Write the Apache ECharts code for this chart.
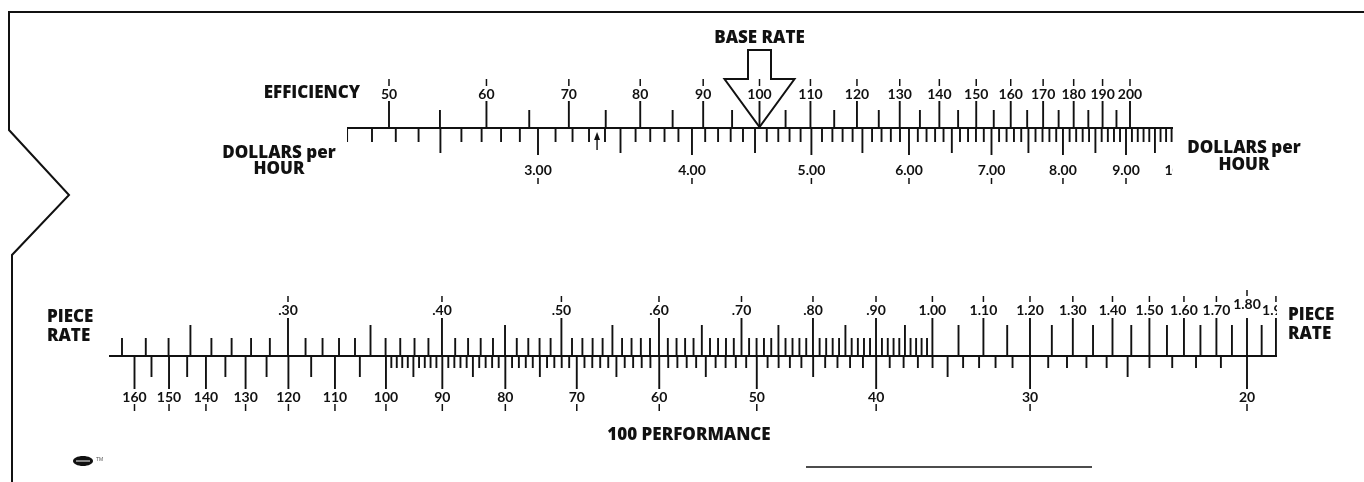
<!DOCTYPE html>
<html>
<head>
<meta charset="utf-8">
<script src="https://cdn.jsdelivr.net/npm/echarts@6/dist/echarts.min.js"></script>
<style>
  html, body { margin: 0; padding: 0; background: #fff; }
  #chart { width: 1364px; height: 482px; }
</style>
</head>
<body>
<div id="chart"></div>
<script>
// ---------------- DATA (scale graduations) ----------------
const efficiencyLabels = [50, 60, 70, 80, 90, 100, 110, 120, 130, 140, 150, 160, 170, 180, 190, 200];
const efficiencyMinor  = [55, 65, 75, 85, 95, 105, 115, 125, 135, 145, 155, 165, 175, 185, 195];

const dollarLabels = [3, 4, 5, 6, 7, 8, 9, 10];
const dollarMedium = [2.5, 3.5, 4.5, 5.5, 6.5, 7.5, 8.5, 9.5];
const dollarSmall  = [2.1, 2.2, 2.3, 2.4, 2.6, 2.7, 2.8, 2.9,
                      3.1, 3.2, 3.3, 3.4, 3.6, 3.7, 3.8, 3.9,
                      4.1, 4.2, 4.3, 4.4, 4.6, 4.7, 4.8, 4.9,
                      5.1, 5.2, 5.3, 5.4, 5.6, 5.7, 5.8, 5.9,
                      6.1, 6.2, 6.3, 6.4, 6.6, 6.7, 6.8, 6.9,
                      7.1, 7.2, 7.3, 7.4, 7.6, 7.7, 7.8, 7.9,
                      8.1, 8.2, 8.3, 8.4, 8.6, 8.7, 8.8, 8.9,
                      9.1, 9.2, 9.3, 9.4, 9.6, 9.7, 9.8, 9.9];

const pieceRateLabels = [0.30, 0.40, 0.50, 0.60, 0.70, 0.80, 0.90, 1.00, 1.10, 1.20, 1.30, 1.40, 1.50, 1.60, 1.70, 1.80, 1.90];
const pieceRateMedium = [0.25, 0.35, 0.45, 0.55, 0.65, 0.75, 0.85, 0.95, 1.05, 1.15, 1.25, 1.35, 1.45, 1.55, 1.65, 1.75, 1.85];
const pieceRateSmall  = [0.22, 0.23, 0.24, 0.26, 0.27, 0.28, 0.29,
                         0.31, 0.32, 0.33, 0.34, 0.36, 0.37, 0.38, 0.39,
                         0.41, 0.42, 0.43, 0.44, 0.46, 0.47, 0.48, 0.49,
                         0.51, 0.52, 0.53, 0.54, 0.56, 0.57, 0.58, 0.59,
                         0.61, 0.62, 0.63, 0.64, 0.66, 0.67, 0.68, 0.69,
                         0.71, 0.72, 0.73, 0.74, 0.76, 0.77, 0.78, 0.79,
                         0.81, 0.82, 0.83, 0.84, 0.86, 0.87, 0.88, 0.89,
                         0.91, 0.92, 0.93, 0.94, 0.96, 0.97, 0.98, 0.99];
const pieceRateRaised = [1.80];

const performanceLabels = [160, 150, 140, 130, 120, 110, 100, 90, 80, 70, 60, 50, 40, 30, 20];
const performanceMedium = [155, 145, 135, 125, 115, 105, 95, 85, 75, 65, 55, 45, 35, 25];
const performanceSmall  = [99, 98, 97, 96, 94, 93, 92, 91,
                           89, 88, 87, 86, 84, 83, 82, 81,
                           79, 78, 77, 76, 74, 73, 72, 71,
                           69, 68, 67, 66, 64, 63, 62, 61,
                           59, 58, 57, 56, 54, 53, 52, 51,
                           49, 48, 47, 46, 44, 43, 42, 41,
                           39, 38, 37, 36, 34, 33, 32, 31,
                           29, 28, 27, 26, 24, 23, 22, 21];

const baseRateEfficiency = [100];
const minimumWageDollars = [3.35];

// ---------------- LAYOUT ----------------
const INK = '#111';
const NUM_FONT = 'Lato, "Open Sans", sans-serif';
const TITLE_FONT = '"Open Sans", Lato, sans-serif';
const TOP_Y = 128, BOT_Y = 356;
const slideTop = { left: 347, right: 1173 };
const slideBot = { left: 109, right: 1277 };
// calibration pairs [value, pixel] used only to place each log axis on the page
const calib = {
  efficiency:  [[50, 389], [200, 1130]],
  dollars:     [[3, 538], [9, 1126]],
  pieceRate:   [[0.30, 288], [1.80, 1247]],
  performance: [[160, 134.5], [20, 1247]]
};
function extentFor(c, left, right) {
  const [v1, p1] = c[0], [v2, p2] = c[1];
  const k = (p2 - p1) / (Math.log10(v2) - Math.log10(v1));
  const a = v1 * Math.pow(10, (left - p1) / k);
  const b = v1 * Math.pow(10, (right - p1) / k);
  return [Math.min(a, b), Math.max(a, b)];
}
const exEff = extentFor(calib.efficiency, slideTop.left, slideTop.right);
const exDol = extentFor(calib.dollars, slideTop.left, slideTop.right);
const exPR  = extentFor(calib.pieceRate, slideBot.left, slideBot.right);
const exPf  = extentFor(calib.performance, slideBot.left, slideBot.right);

function logAxis(gridIndex, ex, inverse) {
  return { type: 'log', logBase: 10, gridIndex, min: ex[0], max: ex[1], inverse: !!inverse, show: false };
}

function tagged(arr, kind) { return arr.map(v => [v, kind]); }

// scale styles: kinds 0 small, 1 medium, 2 labelled
const scaleStyles = {
  efficiency: { kinds: [[TOP_Y - 18, TOP_Y], [TOP_Y - 18, TOP_Y], [TOP_Y - 27, TOP_Y]],
                labelY: 94, capTick: [79, 86], fmt: v => String(v), baseline: TOP_Y },
  dollars:    { kinds: [[TOP_Y, TOP_Y + 14], [TOP_Y, TOP_Y + 25], [TOP_Y, TOP_Y + 27]],
                labelY: 170, capTick: [178, 184], fmt: v => v.toFixed(2), baseline: null },
  pieceRate:  { kinds: [[BOT_Y - 18, BOT_Y], [BOT_Y - 31, BOT_Y], [BOT_Y - 38, BOT_Y]],
                labelY: 310, capTick: [296, 302],
                fmt: v => v < 1 ? v.toFixed(2).replace(/^0/, '') : v.toFixed(2), baseline: BOT_Y },
  performance:{ kinds: [[BOT_Y, BOT_Y + 12], [BOT_Y, BOT_Y + 21], [BOT_Y, BOT_Y + 33]],
                labelY: 397, capTick: [404, 411], fmt: v => String(v), baseline: null }
};

function makeRender(st) {
  return function (params, api) {
    const v = api.value(0), kind = api.value(1);
    const x = api.coord([v, 1])[0];
    const seg = st.kinds[kind];
    const children = [{
      type: 'line', shape: { x1: x, y1: seg[0], x2: x, y2: seg[1] },
      style: { stroke: INK, lineWidth: 1.9 }
    }];
    if (kind === 2) {
      const raised = st === scaleStyles.pieceRate && pieceRateRaised.indexOf(v) >= 0 ? -6 : 0;
      children.push({
        type: 'text', x: x, y: st.labelY + raised,
        style: { text: st.fmt(v), fill: INK, fontSize: 14, fontFamily: NUM_FONT, fontWeight: 'bold',
                 align: 'center', verticalAlign: 'middle' }
      });
      children.push({
        type: 'line', shape: { x1: x, y1: st.capTick[0] + raised, x2: x, y2: st.capTick[1] + raised },
        style: { stroke: INK, lineWidth: 1.5 }
      });
    }
    if (params.dataIndex === 0 && st.baseline !== null) {
      const cs = params.coordSys;
      children.push({
        type: 'line', shape: { x1: cs.x, y1: st.baseline, x2: cs.x + cs.width, y2: st.baseline },
        style: { stroke: INK, lineWidth: 2.2 }
      });
    }
    return { type: 'group', children };
  };
}

function scaleSeries(name, xAxisIndex, yAxisIndex, data, st) {
  return {
    name, type: 'custom', xAxisIndex, yAxisIndex, clip: true, silent: true,
    renderItem: makeRender(st), data, animation: false
  };
}

const effData = tagged(efficiencyMinor, 1).concat(tagged(efficiencyLabels, 2));
const dolData = tagged(dollarSmall, 0).concat(tagged(dollarMedium, 1), tagged(dollarLabels, 2));
const prData  = tagged(pieceRateSmall, 0).concat(tagged(pieceRateMedium, 1), tagged(pieceRateLabels, 2));
const pfData  = tagged(performanceSmall, 0).concat(tagged(performanceMedium, 1), tagged(performanceLabels, 2));

const boldText = (text, x, y, align, size) => ({
  type: 'text', x, y, silent: true,
  style: { text, fill: INK, fontFamily: TITLE_FONT, fontWeight: 800, fontSize: size || 17,
           align: align || 'left', verticalAlign: 'middle' }
});

const option = {
  backgroundColor: '#fff',
  animation: false,
  grid: [
    { left: slideTop.left, width: slideTop.right - slideTop.left, top: 0, height: 482 },
    { left: slideBot.left, width: slideBot.right - slideBot.left, top: 0, height: 482 }
  ],
  xAxis: [
    logAxis(0, exEff),
    logAxis(0, exDol),
    logAxis(1, exPR),
    logAxis(1, exPf, true)
  ],
  yAxis: [
    { type: 'value', gridIndex: 0, min: 0, max: 1, show: false },
    { type: 'value', gridIndex: 1, min: 0, max: 1, show: false }
  ],
  series: [
    scaleSeries('Efficiency', 0, 0, effData, scaleStyles.efficiency),
    scaleSeries('Dollars per hour', 1, 0, dolData, scaleStyles.dollars),
    scaleSeries('Piece rate', 2, 1, prData, scaleStyles.pieceRate),
    scaleSeries('100 performance', 3, 1, pfData, scaleStyles.performance),
    {
      name: 'Base rate', type: 'custom', xAxisIndex: 0, yAxisIndex: 0, clip: false, silent: true,
      data: baseRateEfficiency.map(v => [v, 1]),
      renderItem: function (params, api) {
        const x = api.coord([api.value(0), 1])[0];
        const tip = TOP_Y - 1, headY = 79, topY = 50, hw = 35, sw = 11.5;
        return {
          type: 'group', children: [
            { type: 'polygon',
              shape: { points: [[x - sw, topY], [x + sw, topY], [x + sw, headY], [x + hw, headY], [x, tip],
                                [x - hw, headY], [x - sw, headY]] },
              style: { fill: 'none', stroke: INK, lineWidth: 2 } },
            { type: 'text', x: x, y: 38,
              style: { text: 'BASE RATE', fill: INK, fontFamily: TITLE_FONT, fontWeight: 800, fontSize: 17,
                       align: 'center', verticalAlign: 'middle' } }
          ]
        };
      }
    },
    {
      name: 'Minimum wage', type: 'custom', xAxisIndex: 1, yAxisIndex: 0, clip: false, silent: true,
      data: minimumWageDollars.map(v => [v, 1]),
      renderItem: function (params, api) {
        const x = api.coord([api.value(0), 1])[0];
        return {
          type: 'group', children: [
            { type: 'line', shape: { x1: x, y1: 138, x2: x, y2: 150 }, style: { stroke: INK, lineWidth: 1.4 } },
            { type: 'polygon', shape: { points: [[x, 132], [x - 3, 140], [x + 3, 140]] },
              style: { fill: INK } }
          ]
        };
      }
    }
  ],
  graphic: [
    { type: 'polyline', shape: { points: [[1364, 12], [9, 12], [9, 130], [69, 195], [12, 255], [12, 482]] },
      style: { stroke: INK, lineWidth: 2, fill: 'none' }, silent: true },
    { type: 'line', shape: { x1: 806, y1: 467, x2: 1092, y2: 467 }, style: { stroke: INK, lineWidth: 1.5 }, silent: true },
    { type: 'ellipse', shape: { cx: 83, cy: 461, rx: 10, ry: 5 }, style: { fill: INK }, silent: true },
    { type: 'line', shape: { x1: 76, y1: 461, x2: 90, y2: 461 }, style: { stroke: '#fff', lineWidth: 1 }, silent: true },
    { type: 'text', x: 96, y: 460, silent: true, style: { text: 'TM', fill: '#555', fontSize: 5, verticalAlign: 'middle' } },
    boldText('EFFICIENCY', 360, 93, 'right', 17),
    boldText('DOLLARS per', 279, 153, 'center', 17),
    boldText('HOUR', 279, 169, 'center', 17),
    boldText('DOLLARS per', 1244, 148, 'center', 17),
    boldText('HOUR', 1244, 165, 'center', 17),
    boldText('PIECE', 47, 317, 'left', 17),
    boldText('RATE', 47, 336, 'left', 17),
    boldText('PIECE', 1288, 315, 'left', 17),
    boldText('RATE', 1288, 334, 'left', 17),
    boldText('100 PERFORMANCE', 689, 435, 'center', 17)
  ]
};

const chart = echarts.init(document.getElementById('chart'), null, { renderer: 'canvas' });
chart.setOption(option);
</script>
</body>
</html>
